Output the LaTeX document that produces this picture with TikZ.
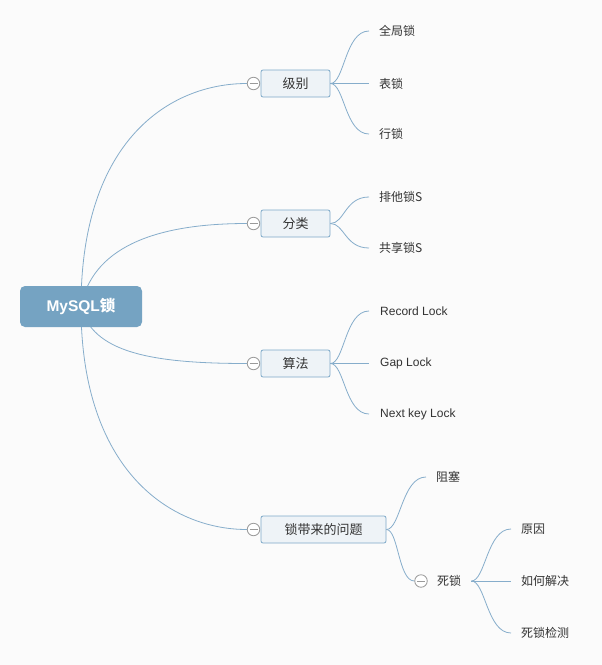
\documentclass[tikz,border=0pt]{standalone}
\usepackage{fontspec}
\setmainfont{Liberation Sans}
\newfontfamily\cjk{Noto Sans CJK SC}
\usetikzlibrary{backgrounds}
\definecolor{bgc}{HTML}{FBFBFB}
\definecolor{rootc}{HTML}{75A3C2}
\definecolor{boxf}{HTML}{EEF3F7}
\definecolor{boxd}{HTML}{7DA9C8}
\definecolor{linec}{HTML}{86ADCB}
\definecolor{minc}{HTML}{9A9A9A}
\definecolor{txt}{HTML}{333333}
\begin{document}
\begin{tikzpicture}[x=1pt,y=-1pt,
  rootbox/.style={fill=rootc, rounded corners=5pt, minimum width=122pt, minimum height=41pt, text=white, font=\fontsize{15.5}{18}\selectfont\bfseries, inner sep=0pt},
  topicbox/.style={fill=boxf, draw=boxd, line width=0.8pt, rounded corners=2pt, minimum height=27pt, text=txt, font=\cjk\fontsize{13}{16}\selectfont, inner sep=0pt},
  leaf/.style={anchor=west, inner xsep=10pt, inner ysep=0pt, text=txt, font=\cjk\fontsize{12}{14}\selectfont},
  leafl/.style={anchor=west, inner xsep=11pt, inner ysep=0pt, text=txt, font=\fontsize{12}{14}\selectfont},
  conn/.style={draw=linec, line width=0.8pt},
  minus/.style={circle, draw=minc, fill=white, line width=0.8pt, minimum size=12.5pt, inner sep=0pt,
    path picture={\draw[minc, line width=0.8pt] ([xshift=-4pt]path picture bounding box.center) -- ([xshift=4pt]path picture bounding box.center);}}
]
\useasboundingbox (0,0) rectangle (602,665);
% root
\node[rootbox] (root) at (81,306.5) {MySQL{\cjk 锁}};
% level 1 collapse circles
\node[minus] (m1) at (253.5,83.5) {};
\node[minus] (m2) at (253.5,223.5) {};
\node[minus] (m3) at (253.5,363.5) {};
\node[minus] (m4) at (253.5,529.5) {};
% level 1 boxes
\node[topicbox, minimum width=69pt] (b1) at (295.5,83.5) {级别};
\node[topicbox, minimum width=69pt] (b2) at (295.5,223.5) {分类};
\node[topicbox, minimum width=69pt] (b3) at (295.5,363.5) {算法};
\node[topicbox, minimum width=125pt] (b4) at (323.5,529.5) {锁带来的问题};
% leaves
\node[leaf] (a1) at (369,31) {全局锁};
\node[leaf] (a2) at (369,83.5) {表锁};
\node[leaf] (a3) at (369,134) {行锁};
\node[leaf] (c1) at (369,197) {排他锁S};
\node[leaf] (c2) at (369,248) {共享锁S};
\node[leafl] (s1) at (369,311) {Record Lock};
\node[leafl] (s2) at (369,363.5) {Gap Lock};
\node[leafl] (s3) at (369,414) {Next key Lock};
\node[leaf] (p1) at (426,477) {阻塞};
\node[minus] (m5) at (421,581) {};
\node[leaf] (p2) at (427,581) {死锁};
\node[leaf] (d1) at (511,529) {原因};
\node[leaf] (d2) at (511,581) {如何解决};
\node[leaf] (d3) at (511,633) {死锁检测};
\begin{scope}[on background layer]
\fill[bgc] (0,0) rectangle (602,665);
\draw[conn] (root.center) .. controls (81,140) and (170,83.5) .. (m1.west);
\draw[conn] (root.center) .. controls (92,250) and (150,223.5) .. (m2.west);
\draw[conn] (root.center) .. controls (92,352) and (150,363.5) .. (m3.west);
\draw[conn] (root.center) .. controls (81,470) and (170,529.5) .. (m4.west);
\end{scope}
% level 2 connectors
\draw[conn] (b1.east) .. controls +(14,0) and +(-24,0) .. (a1.west);
\draw[conn] (b1.east) -- (a2.west);
\draw[conn] (b1.east) .. controls +(14,0) and +(-24,0) .. (a3.west);
\draw[conn] (b2.east) .. controls +(14,0) and +(-24,0) .. (c1.west);
\draw[conn] (b2.east) .. controls +(14,0) and +(-24,0) .. (c2.west);
\draw[conn] (b3.east) .. controls +(14,0) and +(-24,0) .. (s1.west);
\draw[conn] (b3.east) -- (s2.west);
\draw[conn] (b3.east) .. controls +(14,0) and +(-24,0) .. (s3.west);
\draw[conn] (b4.east) .. controls +(14,0) and +(-24,0) .. (p1.west);
\draw[conn] (b4.east) .. controls +(12,0) and +(-16,0) .. (m5.west);
\draw[conn] (p2.east) .. controls +(14,0) and +(-24,0) .. (d1.west);
\draw[conn] (p2.east) -- (d2.west);
\draw[conn] (p2.east) .. controls +(14,0) and +(-24,0) .. (d3.west);
\end{tikzpicture}
\end{document}
